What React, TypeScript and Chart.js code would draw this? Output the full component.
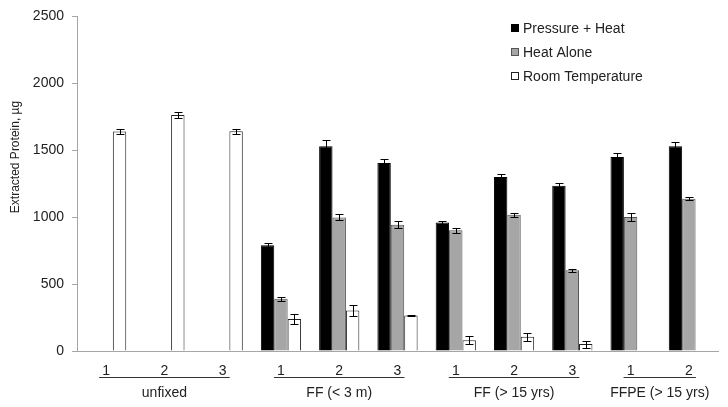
import React, { useEffect, useRef } from "react";
import { Chart, registerables } from "chart.js";

Chart.register(...registerables);

const categories = ["1", "2", "3", "1", "2", "3", "1", "2", "3", "1", "2"];
const groupNames = ["unfixed", "FF (< 3 m)", "FF (> 15 yrs)", "FFPE (> 15 yrs)"];
const groupStarts = [0, 3, 6, 9];
const groupEnds = [2, 5, 8, 10];

const seriesNames = ["Pressure + Heat", "Heat Alone", "Room Temperature"];
const pressureHeat = [null, null, null, 790, 1530, 1405, 960, 1300, 1235, 1450, 1530];
const pressureHeatErr = [null, null, null, 17, 50, 28, 12, 22, 18, 28, 30];
const heatAlone = [null, null, null, 390, 998, 944, 902, 1018, 604, 1001, 1137];
const heatAloneErr = [null, null, null, 15, 22, 25, 20, 15, 12, 30, 10];
const roomTemp = [1640, 1763, 1642, 239, 303, 266, 81, 106, 52, null, null];
const roomTempErr = [18, 22, 20, 35, 42, 3, 28, 32, 26, null, null];

const yTicks = [0, 500, 1000, 1500, 2000, 2500];

const FONT = "'Liberation Sans', Arial, sans-serif";
const TEXT = "#222222";
const AXIS = "#a6a6a6";

const errors = [pressureHeatErr, heatAloneErr, roomTempErr];
const fills = ["#000000", "#a6a6a6", "#ffffff"];
const borders = ["#000000", "#555555", "#222222"];

const errorBarPlugin = {
  id: "errorBars",
  afterDatasetsDraw(chart: any) {
    const ctx = chart.ctx;
    const y = chart.scales.y;
    ctx.save();
    ctx.strokeStyle = "#000000";
    ctx.lineWidth = 1;
    chart.data.datasets.forEach((ds: any, di: number) => {
      const meta = chart.getDatasetMeta(di);
      meta.data.forEach((el: any, i: number) => {
        const v = ds.data[i];
        const e = errors[di][i];
        if (v == null || e == null) return;
        const x = Math.round(el.x) + 0.5;
        const yt = Math.round(y.getPixelForValue(v + e)) + 0.5;
        const yb = Math.round(y.getPixelForValue(v - e)) + 0.5;
        ctx.beginPath();
        ctx.moveTo(x, yt);
        ctx.lineTo(x, yb);
        ctx.moveTo(x - 4, yt);
        ctx.lineTo(x + 4, yt);
        ctx.moveTo(x - 4, yb);
        ctx.lineTo(x + 4, yb);
        ctx.stroke();
      });
    });
    ctx.restore();
  },
};

const decorPlugin = {
  id: "decor",
  afterDraw(chart: any) {
    const ctx = chart.ctx;
    const x = chart.scales.x;
    ctx.save();
    ctx.strokeStyle = "#333333";
    ctx.lineWidth = 1;
    ctx.fillStyle = TEXT;
    ctx.font = `14px ${FONT}`;
    ctx.textAlign = "center";
    ctx.textBaseline = "middle";
    groupNames.forEach((name, g) => {
      const x0 = x.getPixelForValue(groupStarts[g]) - 7;
      const x1 = x.getPixelForValue(groupEnds[g]) + 7;
      ctx.beginPath();
      ctx.moveTo(x0, 377.5);
      ctx.lineTo(x1, 377.5);
      ctx.stroke();
      ctx.fillText(name, (x0 + x1) / 2, 393);
    });
    ctx.save();
    ctx.translate(16, 157);
    ctx.rotate(-Math.PI / 2);
    ctx.font = `12px ${FONT}`;
    ctx.fillText("Extracted Protein, \u00b5g", 0, 0);
    ctx.restore();
    const lx = 511;
    const ly = [28, 52, 76];
    ctx.textAlign = "left";
    ctx.font = `14px ${FONT}`;
    seriesNames.forEach((n, i) => {
      ctx.fillStyle = fills[i];
      ctx.fillRect(lx, ly[i] - 4, 8, 8);
      ctx.strokeStyle = borders[i];
      ctx.strokeRect(lx + 0.5, ly[i] - 3.5, 7, 7);
      ctx.fillStyle = TEXT;
      ctx.fillText(n, lx + 12, ly[i] + 1);
    });
    ctx.restore();
  },
};

export default function App() {
  const ref = useRef<HTMLCanvasElement>(null);
  useEffect(() => {
    document.body.style.margin = "0";
    const chart = new Chart(ref.current!, {
      type: "bar",
      data: {
        labels: categories,
        datasets: [
          { label: seriesNames[0], data: pressureHeat, backgroundColor: fills[0], borderColor: borders[0], borderWidth: 1 },
          { label: seriesNames[1], data: heatAlone, backgroundColor: fills[1], borderColor: borders[1], borderWidth: 1 },
          { label: seriesNames[2], data: roomTemp, backgroundColor: fills[2], borderColor: borders[2], borderWidth: 1 },
        ] as any,
      },
      options: {
        animation: false,
        responsive: false,
        layout: { padding: { left: 0, top: 13, right: 10, bottom: 0 } },
        plugins: { legend: { display: false }, tooltip: { enabled: false } },
        datasets: { bar: { categoryPercentage: 0.69, barPercentage: 1.0 } },
        scales: {
          x: {
            grid: { drawOnChartArea: false, drawTicks: false },
            border: { display: true, color: AXIS, width: 1 },
            ticks: { padding: 12, color: TEXT, font: { family: FONT, size: 14 }, maxRotation: 0, autoSkip: false },
            afterFit: (s: any) => { s.height = 56; },
          },
          y: {
            min: 0,
            max: 2500,
            afterBuildTicks: (s: any) => { s.ticks = yTicks.map((v) => ({ value: v })); },
            grid: { drawOnChartArea: false, drawTicks: true, tickLength: 5, color: AXIS },
            border: { display: true, color: AXIS, width: 1 },
            ticks: {
              padding: 8,
              color: TEXT,
              font: { family: FONT, size: 14 },
              callback: (v: any) => String(v),
            },
            afterFit: (s: any) => { s.width = 77; },
          },
        },
      },
      plugins: [errorBarPlugin, decorPlugin],
    });
    return () => chart.destroy();
  }, []);
  return (
    <div style={{ width: 728, height: 407 }}>
      <canvas ref={ref} width={728} height={407} />
    </div>
  );
}
